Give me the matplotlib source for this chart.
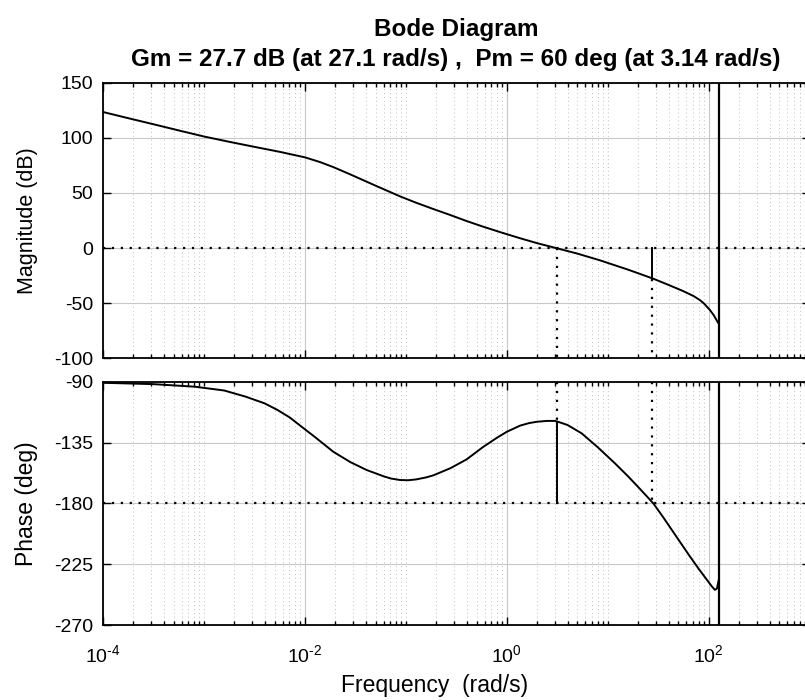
import numpy as np
import matplotlib.pyplot as plt
from matplotlib.ticker import LogLocator, NullFormatter, FixedLocator, FixedFormatter

plt.rcParams['font.family'] = ['Liberation Sans', 'DejaVu Sans']
plt.rcParams['mathtext.fontset'] = 'custom'
plt.rcParams['mathtext.rm'] = 'Liberation Sans'
plt.rcParams['axes.unicode_minus'] = False

# values (frequency as log10 of rad/s)
mag_logw = [-4.0, -3.75, -3.5, -3.25, -3.0, -2.75, -2.5, -2.25, -2.0, -1.85,
            -1.72, -1.55, -1.3, -1.06, -0.9, -0.73, -0.56, -0.4, -0.24, -0.07,
            0.13, 0.3, 0.49, 0.7, 0.92, 1.2, 1.45, 1.6, 1.745, 1.85,
            1.91, 1.95, 2.01, 2.05, 2.09]
mag_db = [123.4, 117.8, 112.3, 106.7, 101.2, 96.4, 91.8, 87.3, 82.3, 78.0,
          73.5, 66.8, 56.6, 47.0, 41.2, 35.5, 30.0, 24.6, 19.6, 14.6,
          9.0, 4.5, 0.0, -5.0, -11.0, -19.5, -27.7, -33.3, -38.9, -43.5,
          -47.0, -50.0, -56.0, -61.0, -67.5]

ph_logw = [-4.0, -3.5, -3.09, -2.8, -2.59, -2.4, -2.27, -2.15, -2.03, -1.9,
           -1.72, -1.55, -1.39, -1.22, -1.15, -1.06, -0.98, -0.9, -0.8, -0.73,
           -0.56, -0.4, -0.24, -0.1, 0.0, 0.13, 0.22, 0.3, 0.4, 0.48,
           0.6, 0.74, 0.9, 1.07, 1.2, 1.32, 1.45, 1.55, 1.65, 1.81,
           1.9, 1.98, 2.03, 2.06, 2.08, 2.1]
ph_deg = [-90.8, -91.8, -93.7, -96.5, -101, -106, -111, -116.5, -123.5, -131,
          -141.8, -149.5, -155.3, -160, -161.6, -162.7, -162.9, -162.3, -160.8, -159.3,
          -154, -147.5, -138.5, -131.5, -127, -122.5, -120.6, -119.6, -119, -119,
          -122, -128.2, -138.5, -150.4, -160, -169.5, -180, -190.5, -201.5, -219,
          -228.5, -236.5, -241.5, -244, -243, -236]

jump_w = 126          # where both curves shoot off the axes
gm_db, gm_w = 27.7, 27.1
pm_deg, pm_w = 60, 3.14
pm_phase = -120

xticks = [1e-4, 1e-2, 1e0, 1e2]
xticklabels = [r'$10^{\text{-}4}$', r'$10^{\text{-}2}$', r'$10^{0}$', r'$10^{2}$']

fig = plt.figure(figsize=(8.05, 7.0), dpi=100)
ax1 = fig.add_axes([0.128, 0.4879, 0.878, 0.394])
ax2 = fig.add_axes([0.128, 0.1071, 0.878, 0.3476])

dot = (0, (1, 3))
for ax in (ax1, ax2):
    ax.set_xscale('log')
    ax.set_xlim(1e-4, 1e3)
    ax.xaxis.set_major_locator(FixedLocator(xticks))
    ax.xaxis.set_major_formatter(FixedFormatter(xticklabels))
    ax.xaxis.set_minor_locator(LogLocator(base=10, subs=range(1, 10), numticks=50))
    ax.xaxis.set_minor_formatter(NullFormatter())
    ax.grid(True, which='major', color='#c8c8c8', lw=0.8, ls='-')
    ax.grid(True, which='minor', axis='x', color='#c0c0c0', lw=0.7, ls=(0, (1, 3)))
    ax.tick_params(which='both', direction='in', top=True, right=True,
                   labelsize=14, width=1.0, color='black')
    ax.tick_params(which='major', length=6, pad=7)
    ax.tick_params(which='minor', length=3)
    ax.tick_params(axis='x', pad=14)
    for s in ax.spines.values():
        s.set_linewidth(1.3)
        s.set_color('black')
    ax.set_axisbelow(True)
    ax.axvline(jump_w, color='black', lw=1.6)

ax1.plot(10 ** np.array(mag_logw), mag_db, color='black', lw=1.4)
ax1.set_ylim(-100, 150)
ax1.set_yticks([-100, -50, 0, 50, 100, 150])
ax1.tick_params(axis='x', labelbottom=False)
ax1.axhline(0, color='black', lw=1.6, ls=dot)
ax1.plot([pm_w, pm_w], [0, -100], color='black', lw=1.6, ls=dot)
ax1.plot([gm_w, gm_w], [0, -gm_db], color='black', lw=1.4)
ax1.plot([gm_w, gm_w], [-gm_db, -100], color='black', lw=1.6, ls=dot)
ax1.set_ylabel('Magnitude (dB)', fontsize=15.5)
ax1.yaxis.set_label_coords(-0.092, 0.5)

ax2.plot(10 ** np.array(ph_logw), ph_deg, color='black', lw=1.4)
ax2.set_ylim(-270, -90)
ax2.set_yticks([-270, -225, -180, -135, -90])
ax2.axhline(-180, color='black', lw=1.6, ls=dot)
ax2.plot([gm_w, gm_w], [-90, -180], color='black', lw=1.6, ls=dot)
ax2.plot([pm_w, pm_w], [-90, pm_phase], color='black', lw=1.6, ls=dot)
ax2.plot([pm_w, pm_w], [pm_phase, pm_phase - pm_deg], color='black', lw=1.4)
ax2.set_ylabel('Phase (deg)', fontsize=16.5)
ax2.yaxis.set_label_coords(-0.092, 0.5)
ax2.set_xlabel('Frequency  (rad/s)', fontsize=16.5)
ax2.xaxis.set_label_coords(0.4695, -0.2)

fig.text(0.5665, 0.958, 'Bode Diagram', ha='center', va='center',
         fontsize=17.5, fontweight='bold')
fig.text(0.5665, 0.915,
         'Gm = %.1f dB (at %.1f rad/s) ,  Pm = %d deg (at %.2f rad/s)' % (gm_db, gm_w, pm_deg, pm_w),
         ha='center', va='center', fontsize=17.5, fontweight='bold')

fig.savefig('out.png', dpi=100)
